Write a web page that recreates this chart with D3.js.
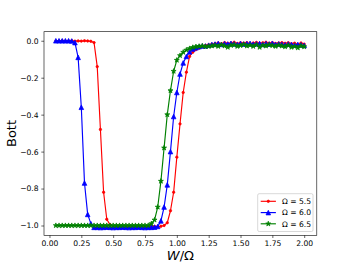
<!DOCTYPE html>
<html><head><meta charset="utf-8">
<script src="https://cdn.jsdelivr.net/npm/d3@7"></script>
<style>html,body{margin:0;padding:0;background:#fff;} svg{display:block;font-family:"DejaVu Sans",sans-serif;}</style>
</head><body><svg id="c" width="352" height="264"></svg>
<script>
const xValues = [0.05,0.075,0.1,0.125,0.15,0.175,0.2,0.225,0.25,0.275,0.3,0.325,0.35,0.375,0.4,0.425,0.45,0.475,0.5,0.525,0.55,0.575,0.6,0.625,0.65,0.675,0.7,0.725,0.75,0.775,0.8,0.825,0.85,0.875,0.9,0.925,0.95,0.975,1.0,1.025,1.05,1.075,1.1,1.125,1.15,1.175,1.2,1.225,1.25,1.275,1.3,1.325,1.35,1.375,1.4,1.425,1.45,1.475,1.5,1.525,1.55,1.575,1.6,1.625,1.65,1.675,1.7,1.725,1.75,1.775,1.8,1.825,1.85,1.875,1.9,1.925,1.95,1.975,2.0];
const bott55 = [-0.002,-0.001,0.0,-0.002,-0.001,0.0,-0.002,-0.001,-0.002,0.0,-0.001,-0.003,
  -0.01,-0.14,-0.48,-0.82,-0.966,-0.995,
  -1.005,-1.004,-1.006,-1.005,-1.004,-1.005,-1.006,-1.005,-1.004,-1.005,-1.006,-1.005,-1.004,-1.005,-1.006,-1.004,-1.0,
  -0.985,-0.92,-0.82,-0.63,-0.45,-0.28,-0.17,-0.085,-0.062,-0.048,-0.04,-0.032,
  -0.025,-0.022,-0.018,-0.015,-0.012,-0.016,-0.01,-0.014,-0.012,-0.008,-0.015,-0.011,-0.013,-0.01,-0.016,-0.012,-0.009,-0.014,-0.011,-0.008,-0.013,-0.01,-0.015,-0.012,-0.01,-0.014,-0.011,-0.016,-0.013,-0.02,-0.012,-0.018];
const bott60 = [0.0,0.0,0.0,0.0,0.0,-0.001,
  -0.01,-0.09,-0.36,-0.77,-0.94,-0.99,
  -1.01,-1.01,-1.011,-1.01,-1.009,-1.01,-1.011,-1.01,-1.01,-1.009,-1.01,-1.011,-1.01,-1.01,-1.009,-1.01,-1.011,-1.01,-1.01,-1.009,-1.005,
  -0.975,-0.9,-0.78,-0.6,-0.41,-0.28,-0.18,-0.12,-0.085,-0.06,-0.045,-0.038,-0.032,-0.028,
  -0.028,-0.024,-0.02,-0.018,-0.015,-0.02,-0.016,-0.018,-0.014,-0.017,-0.02,-0.015,-0.018,-0.016,-0.014,-0.019,-0.017,-0.015,-0.02,-0.016,-0.018,-0.014,-0.02,-0.017,-0.019,-0.022,-0.018,-0.02,-0.024,-0.02,-0.022,-0.025];
const bott65 = [-1.0,-1.0,-1.0,-1.0,-1.0,-1.0,-1.0,-1.0,-1.0,-1.0,-1.0,-1.0,-1.0,-1.0,-1.0,-1.0,-1.0,-1.0,-1.0,-1.0,-1.0,-1.0,-1.0,-1.0,-1.0,-1.0,-1.0,-1.0,-1.0,-1.0,
  -0.99,-0.97,-0.9,-0.76,-0.58,-0.4,-0.27,-0.165,-0.105,-0.08,-0.062,-0.05,-0.042,-0.036,-0.032,-0.03,-0.028,
  -0.032,-0.03,-0.028,-0.025,-0.03,-0.022,-0.028,-0.035,-0.025,-0.022,-0.03,-0.026,-0.02,-0.028,-0.024,-0.03,-0.022,-0.035,-0.025,-0.028,-0.022,-0.026,-0.03,-0.024,-0.028,-0.032,-0.025,-0.035,-0.03,-0.038,-0.028,-0.032];
const seriesLabels = ["Ω = 5.5", "Ω = 6.0", "Ω = 6.5"];
const seriesColors = ["#ff0000", "#0000ff", "#008000"];
const seriesMarkers = ["dot", "triangle", "star"];
const xTicks = [0, 0.25, 0.5, 0.75, 1.0, 1.25, 1.5, 1.75, 2.0];
const yTicks = [0, -0.2, -0.4, -0.6, -0.8, -1.0];
const xLabel = "W/Ω";
const yLabel = "Bott";

const svg = d3.select("#c");
const L = 44, R = 316.8, T = 31.7, B = 235.3;
const x = d3.scaleLinear().domain([-0.043, 2.099]).range([L, R]);
const y = d3.scaleLinear().domain([-1.053, 0.049]).range([B, T]);
const FS = 7.6;

const series = [bott55, bott60, bott65].map((vals, k) => ({
  label: seriesLabels[k], color: seriesColors[k], marker: seriesMarkers[k],
  pts: xValues.map((xv, i) => [xv, vals[i]])
}));

function markerPath(type) {
  if (type === "triangle") {
    const s = 2.3;
    return `M0,${-s}L${s},${s}L${-s},${s}Z`;
  }
  if (type === "star") {
    const ro = 2.6, ri = ro * 0.381966;
    let p = "";
    for (let i = 0; i < 10; i++) {
      const r = i % 2 === 0 ? ro : ri;
      const a = -Math.PI / 2 + i * Math.PI / 5;
      p += (i === 0 ? "M" : "L") + (r * Math.cos(a)).toFixed(3) + "," + (r * Math.sin(a)).toFixed(3);
    }
    return p + "Z";
  }
  return d3.symbol(d3.symbolCircle, Math.PI * 1.2 * 1.2)();
}

const plot = svg.append("g");
const line = d3.line().x(d => x(d[0])).y(d => y(d[1]));
series.forEach(s => {
  const g = plot.append("g");
  g.append("path").attr("d", line(s.pts)).attr("fill", "none")
    .attr("stroke", s.color).attr("stroke-width", 1.15).attr("stroke-linejoin", "round");
  g.selectAll("path.m").data(s.pts).enter().append("path").attr("class", "m")
    .attr("d", markerPath(s.marker))
    .attr("transform", d => `translate(${x(d[0])},${y(d[1])})`)
    .attr("fill", s.color).attr("stroke", s.color).attr("stroke-width", 0.76);
});

// axes
const xAxis = d3.axisBottom(x).tickValues(xTicks).tickSize(2.7).tickPadding(2.7).tickFormat(d3.format(".2f"));
const yAxis = d3.axisLeft(y).tickValues(yTicks).tickSize(2.7).tickPadding(2.7).tickFormat(d => d3.format(".1f")(d).replace("-", "\u2212"));
const gx = svg.append("g").attr("transform", `translate(0,${B})`).call(xAxis);
const gy = svg.append("g").attr("transform", `translate(${L},0)`).call(yAxis);
[gx, gy].forEach(g => {
  g.select(".domain").remove();
  g.selectAll(".tick line").attr("stroke", "#000").attr("stroke-width", 0.6);
  g.selectAll(".tick text").attr("fill", "#000").style("font-size", FS + "px").style("font-family", "DejaVu Sans");
});
svg.append("rect").attr("x", L).attr("y", T).attr("width", R - L).attr("height", B - T)
  .attr("fill", "none").attr("stroke", "#000").attr("stroke-width", 0.6);

// labels
svg.append("text").attr("x", (L + R) / 2).attr("y", 259.5).attr("text-anchor", "middle")
  .style("font-size", "13px")
  .call(t => {
    t.append("tspan").attr("font-style", "italic").text(xLabel.slice(0, 1));
    t.append("tspan").text(xLabel.slice(1));
  });
svg.append("text").attr("transform", `translate(16,${(T + B) / 2}) rotate(-90)`).attr("text-anchor", "middle")
  .style("font-size", "13px").text(yLabel);

// legend
const lg = svg.append("g");
const lx0 = 257.7, ly0 = 193.7, lw = 313 - 257.7, lh = 231.5 - 193.7;
lg.append("rect").attr("x", lx0).attr("y", ly0).attr("width", lw).attr("height", lh).attr("rx", 1.5)
  .attr("fill", "#fff").attr("fill-opacity", 0.8).attr("stroke", "#cccccc").attr("stroke-width", 0.76);
const rowY = [201.3, 212.6, 223.8];
series.forEach((s, k) => {
  const cy = rowY[k];
  lg.append("line").attr("x1", 260.7).attr("x2", 275.9).attr("y1", cy).attr("y2", cy)
    .attr("stroke", s.color).attr("stroke-width", 1.15);
  lg.append("path").attr("d", markerPath(s.marker)).attr("transform", `translate(268.3,${cy})`)
    .attr("fill", s.color).attr("stroke", s.color).attr("stroke-width", 0.76);
  lg.append("text").attr("x", 282).attr("y", cy + 2.8).style("font-size", FS + "px").text(s.label);
});
</script></body></html>
